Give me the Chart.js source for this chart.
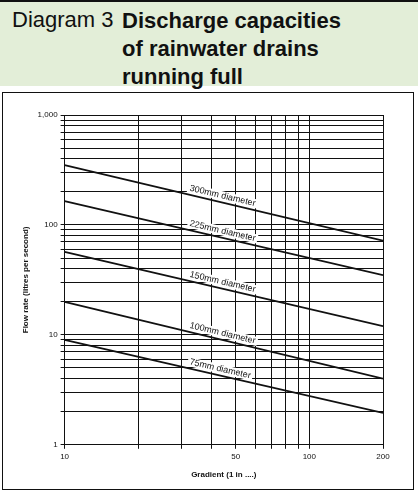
<!DOCTYPE html>
<html>
<head>
<meta charset="utf-8">
<script src="https://cdn.jsdelivr.net/npm/chart.js@4"></script>
<style>
  body { margin: 0; width: 418px; height: 494px; background: #fff; font-family: "Liberation Sans", Arial, sans-serif; position: relative; overflow: hidden; }
  #head { position: absolute; left: 0; top: 0; width: 418px; height: 86px; background: #e3eed8; border-top: 2px solid #111; box-sizing: border-box; }
  #head .num { position: absolute; left: 12px; top: 5px; font-size: 22px; color: #111; }
  #head .title { position: absolute; left: 122px; top: 5px; font-size: 22px; font-weight: bold; line-height: 28px; color: #111; }
  #frame { position: absolute; left: 2px; top: 92px; width: 412px; height: 398px; border: 1.5px solid #111; box-sizing: border-box; }
  #wrap { position: absolute; left: 0; top: 0; width: 409px; height: 395px; }
</style>
</head>
<body>
<div id="head"><div class="num">Diagram 3</div><div class="title">Discharge capacities<br>of rainwater drains<br>running full</div></div>
<div id="frame"><div id="wrap"><canvas id="c"></canvas></div></div>
<script>
const gradients = [10, 200];
const seriesNames = ['300mm diameter', '225mm diameter', '150mm diameter', '100mm diameter', '75mm diameter'];
const flowAt10 = [350, 165, 57, 20, 9];
const flowAt200 = [72, 35, 12, 4, 1.95];
const xTicks = [10, 20, 30, 40, 50, 60, 70, 80, 90, 100, 200];
const xLabels = [10, 50, 100, 200];
const yTicks = [1, 2, 3, 4, 5, 6, 7, 8, 9, 10, 20, 30, 40, 50, 60, 70, 80, 90, 100, 200, 300, 400, 500, 600, 700, 800, 900, 1000];
const yLabels = [1, 10, 100, 1000];
const labelAt = 32;

// line labels drawn along each line
const lineLabels = {
  id: 'lineLabels',
  afterDatasetsDraw(chart) {
    const ctx = chart.ctx, xs = chart.scales.x, ys = chart.scales.y;
    chart.data.datasets.forEach((ds, i) => {
      const p0 = { x: xs.getPixelForValue(ds.data[0].x), y: ys.getPixelForValue(ds.data[0].y) };
      const p1 = { x: xs.getPixelForValue(ds.data[1].x), y: ys.getPixelForValue(ds.data[1].y) };
      const ang = Math.atan2(p1.y - p0.y, p1.x - p0.x);
      const t = (xs.getPixelForValue(labelAt) - p0.x) / (p1.x - p0.x);
      const cx = p0.x + t * (p1.x - p0.x), cy = p0.y + t * (p1.y - p0.y);
      ctx.save();
      ctx.translate(cx, cy);
      ctx.rotate(ang);
      ctx.font = '9px "Liberation Sans", Arial';
      const w = ctx.measureText(ds.label).width;
      ctx.fillStyle = '#fff';
      ctx.fillRect(-2, -11, w + 4, 9);
      ctx.fillStyle = '#111';
      ctx.textBaseline = 'bottom';
      ctx.fillText(ds.label, 0, -2);
      ctx.restore();
    });
  }
};

new Chart(document.getElementById('c'), {
  type: 'line',
  data: {
    datasets: seriesNames.map((name, i) => ({
      label: name,
      data: [{ x: gradients[0], y: flowAt10[i] }, { x: gradients[1], y: flowAt200[i] }],
      borderColor: '#111',
      borderWidth: 1.8,
      pointRadius: 0,
      fill: false
    }))
  },
  options: {
    responsive: true,
    maintainAspectRatio: false,
    animation: false,
    layout: { padding: { top: 22, right: 29, bottom: 4, left: 14 } },
    plugins: { legend: { display: false }, tooltip: { enabled: false } },
    scales: {
      x: {
        type: 'logarithmic', min: 10, max: 200,
        afterBuildTicks: s => { s.ticks = xTicks.map(v => ({ value: v })); },
        ticks: { autoSkip: false, maxRotation: 0, color: '#111', font: { size: 8 }, callback: v => xLabels.includes(v) ? String(v) : '' },
        grid: { color: '#111', lineWidth: 1, tickLength: 4 },
        border: { color: '#111' },
        title: { display: true, text: 'Gradient (1 in ....)', color: '#111', font: { size: 8, weight: 'bold' }, padding: { top: 6 } }
      },
      y: {
        type: 'logarithmic', min: 1, max: 1000,
        afterBuildTicks: s => { s.ticks = yTicks.map(v => ({ value: v })); },
        ticks: { autoSkip: false, color: '#111', font: { size: 8 }, callback: v => yLabels.includes(v) ? v.toLocaleString('en-US') : '' },
        grid: { color: '#111', lineWidth: 1, tickLength: 4 },
        border: { color: '#111' },
        title: { display: true, text: 'Flow rate (litres per second)', color: '#111', font: { size: 8, weight: 'bold' }, padding: { bottom: 4 } }
      }
    }
  },
  plugins: [lineLabels]
});
</script>
</body>
</html>
